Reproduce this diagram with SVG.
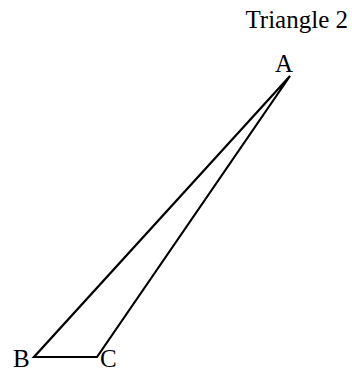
<svg xmlns="http://www.w3.org/2000/svg" width="352" height="373" viewBox="0 0 352 373">
<style>
text{font-family:"Liberation Serif","Times New Roman",serif;font-size:25px;fill:#000}
.edge{fill:none;stroke:#000;stroke-width:2.2;stroke-linejoin:miter}
</style>
<rect width="352" height="373" fill="#fff"/>
<text x="348" y="28" text-anchor="end">Triangle 2</text>
<g id="connectors">
<path class="edge" d="M290,76 L34,357 L97,357 Z"/>
</g>
<g id="A"><text x="275" y="72">A</text></g>
<g id="B"><text x="13" y="367">B</text></g>
<g id="C"><text x="100" y="367">C</text></g>
</svg>
